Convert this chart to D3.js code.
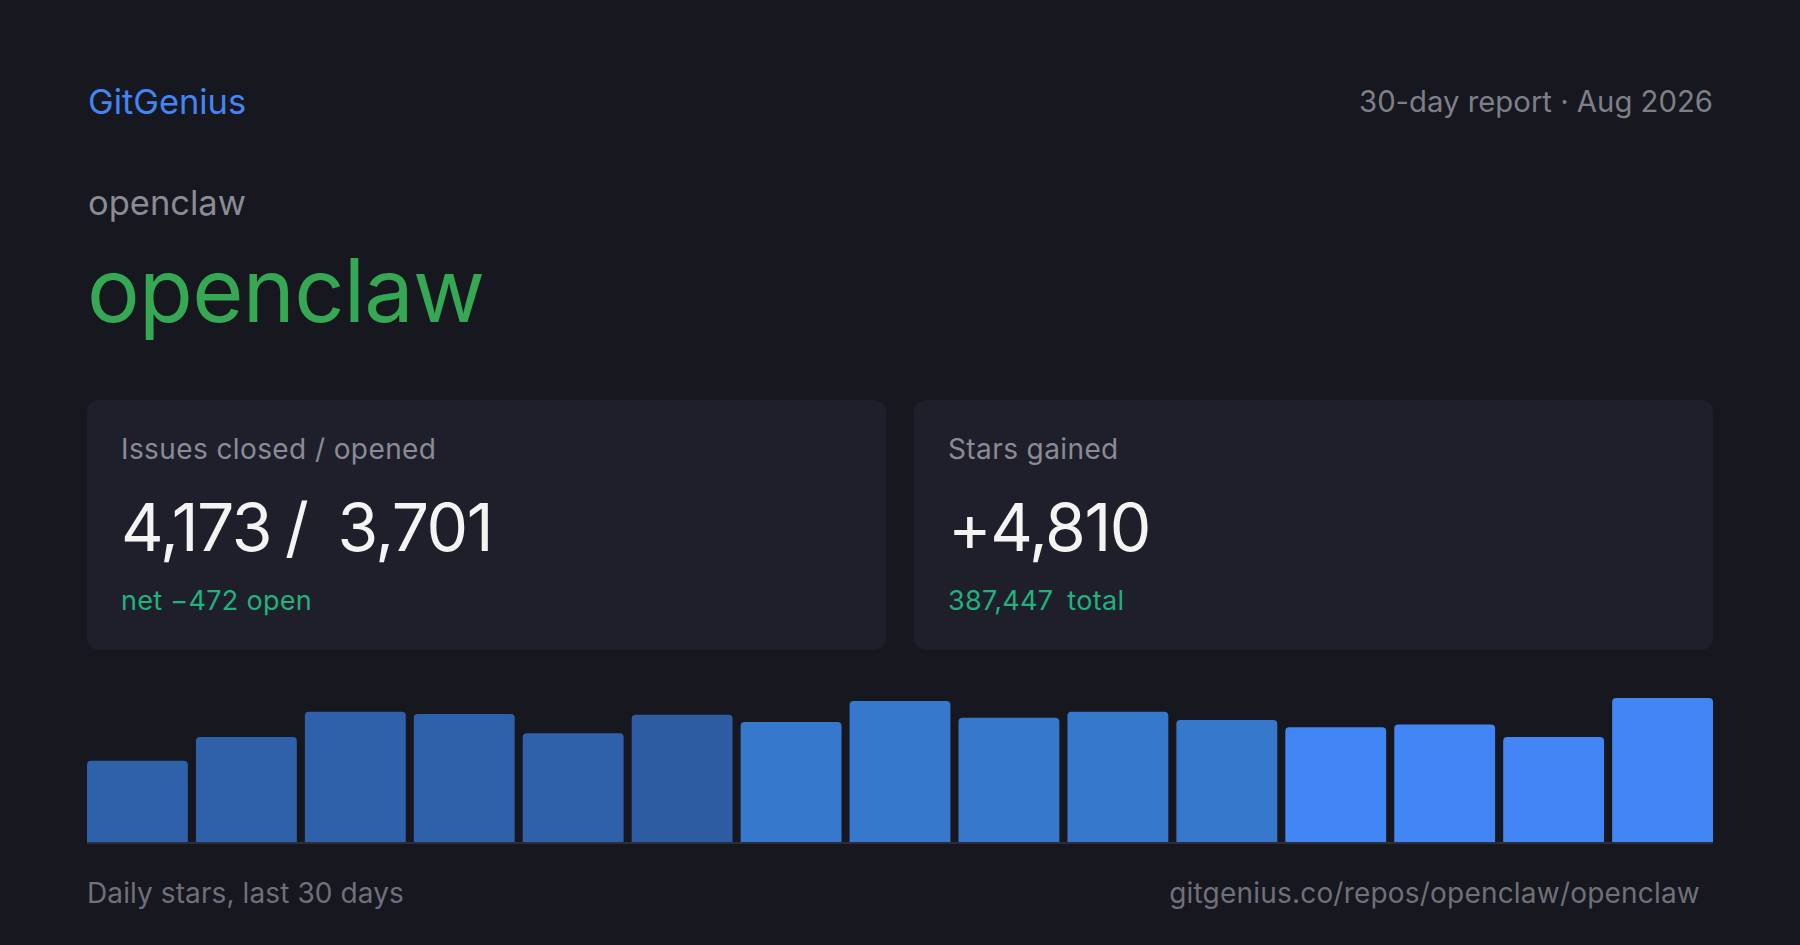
<!DOCTYPE html>
<html>
<head>
<meta charset="utf-8">
<script src="https://cdn.jsdelivr.net/npm/d3@7"></script>
<style>
  html, body { margin: 0; padding: 0; background: #16171f; }
  svg { display: block; font-family: Inter, "Noto Sans", sans-serif; }
</style>
</head>
<body>
<svg id="card"></svg>
<script>
// dados
const repoOwner = "openclaw";
const repoName = "openclaw";
const reportLabel = "30-day report · Aug 2026";
const issuesClosed = 4173;
const issuesOpened = 3701;
const starsGained = 4810;
const starsTotal = 387447;
// estrelas por bloco de 2 dias (15 blocos = 30 dias)
const buckets = d3.range(1, 16);
const dailyStars = [217, 281, 348, 342, 291, 340, 321, 377, 332, 348, 326, 307, 314, 281, 385];
const barTones = ["#2f60aa", "#2f60aa", "#2f60aa", "#2f60aa", "#2f60aa", "#2d5ca3",
                  "#3678cb", "#3678cb", "#3678cb", "#3678cb", "#3678cb",
                  "#4285f4", "#4285f4", "#4285f4", "#4285f4"];

const W = 1800, H = 945;
const left = 87, right = 1713;

const svg = d3.select("#card")
    .attr("width", W)
    .attr("height", H)
    .attr("viewBox", `0 0 ${W} ${H}`);

svg.append("rect")
    .attr("width", W)
    .attr("height", H)
    .attr("fill", "#16171f");

const fmt = d3.format(",");

// cabeçalho
svg.append("text")
    .attr("x", left + 1).attr("y", 114)
    .attr("font-size", 34.4)
    .attr("fill", "#4285f4")
    .text("GitGenius");

svg.append("text")
    .attr("x", right).attr("y", 112)
    .attr("text-anchor", "end")
    .attr("font-size", 29.3)
    .attr("fill", "#7e7f89")
    .text(reportLabel);

svg.append("text")
    .attr("x", left + 1).attr("y", 215)
    .attr("font-size", 34.5)
    .attr("fill", "#8a8b95")
    .text(repoOwner);

svg.append("text")
    .attr("x", left).attr("y", 322)
    .attr("font-size", 88)
    .attr("letter-spacing", -0.7)
    .attr("fill", "#34a853")
    .text(repoName);

// cartões
const cards = [
    { x: left, title: "Issues closed / opened", big: [fmt(issuesClosed), "/", fmt(issuesOpened)],
      sub: [`net \u2212${issuesClosed - issuesOpened} open`] },
    { x: 914, title: "Stars gained", big: ["+" + fmt(starsGained)],
      sub: [fmt(starsTotal), "total"] }
];
const cardW = 799, cardY = 400, cardH = 250;

const g = svg.selectAll(".stat")
    .data(cards)
    .enter()
    .append("g")
    .attr("class", "stat")
    .attr("transform", d => `translate(${d.x},${cardY})`);

g.append("rect")
    .attr("width", cardW)
    .attr("height", cardH)
    .attr("rx", 12)
    .attr("fill", "#1f1f2b");

g.append("text")
    .attr("x", 34).attr("y", 59)
    .attr("font-size", 28)
    .attr("letter-spacing", 0.4)
    .attr("fill", "#8a8b96")
    .text(d => d.title);

g.append("text")
    .attr("x", 34).attr("y", 151)
    .attr("font-size", 66)
    .attr("letter-spacing", -1.5)
    .attr("fill", "#f4f4f2")
    .each(function (d) {
        const t = d3.select(this);
        d.big.forEach((s, i) => t.append("tspan").attr("dx", i ? (i === 2 ? 30 : 14) : 0).text(s));
    });

g.append("text")
    .attr("x", 34).attr("y", 210)
    .attr("font-size", 27)
    .attr("letter-spacing", 0.3)
    .attr("fill", "#20b27b")
    .each(function (d) {
        const t = d3.select(this);
        d.sub.forEach((s, i) => t.append("tspan").attr("dx", i ? 14 : 0).text(s));
    });

// barras
const x = d3.scaleBand()
    .domain(buckets)
    .range([left, right])
    .paddingInner(0.074);

const y = d3.scaleLinear()
    .domain([0, d3.max(dailyStars)])
    .range([842, 698]);

const r = 4;
svg.selectAll(".bar")
    .data(dailyStars)
    .enter()
    .append("path")
    .attr("class", "bar")
    .attr("fill", (d, i) => barTones[i])
    .attr("d", (d, i) => {
        const x0 = x(buckets[i]), w = x.bandwidth(), y0 = y(d), y1 = y(0);
        return `M${x0},${y1}V${y0 + r}Q${x0},${y0} ${x0 + r},${y0}H${x0 + w - r}Q${x0 + w},${y0} ${x0 + w},${y0 + r}V${y1}Z`;
    });

svg.append("line")
    .attr("x1", left).attr("x2", right)
    .attr("y1", 843).attr("y2", 843)
    .attr("stroke", "#2c2d39")
    .attr("stroke-width", 2);

// rodapé
svg.append("text")
    .attr("x", left).attr("y", 903)
    .attr("font-size", 28)
    .attr("letter-spacing", 0.1)
    .attr("fill", "#6f707a")
    .text("Daily stars, last 30 days");

svg.append("text")
    .attr("x", 1700).attr("y", 903)
    .attr("text-anchor", "end")
    .attr("font-size", 28)
    .attr("letter-spacing", 0.2)
    .attr("fill", "#6f707a")
    .text(`gitgenius.co/repos/${repoOwner}/${repoName}`);
</script>
</body>
</html>
